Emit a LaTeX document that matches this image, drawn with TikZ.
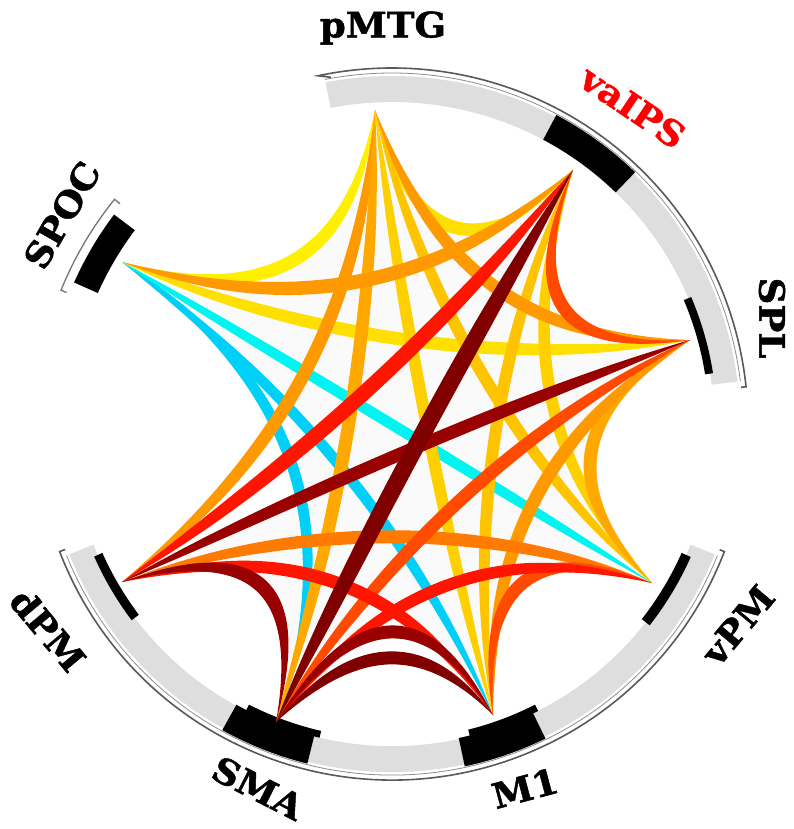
\documentclass[tikz,border=0pt]{standalone}
\usepackage{fontspec}
\usepackage{tikz}
\usetikzlibrary{calc}
\newfontfamily\lblfont{DejaVu Serif}[FakeStretch=1.06,FakeBold=1.4]
\definecolor{ringgray}{RGB}{222,222,222}
\definecolor{cyA}{HTML}{00F4F0}
\definecolor{cyB}{HTML}{00CFF8}
\definecolor{yelA}{HTML}{FFF000}
\definecolor{yelB}{HTML}{FFDF00}
\definecolor{gold}{HTML}{FFD000}
\definecolor{goldB}{HTML}{FFC400}
\definecolor{orA}{HTML}{FF9900}
\definecolor{orB}{HTML}{FFA800}
\definecolor{orC}{HTML}{FF7A00}
\definecolor{orRed}{HTML}{FF4A00}
\definecolor{red1}{HTML}{FF1500}
\definecolor{dkred}{HTML}{990000}
\definecolor{dkredB}{HTML}{800000}
\definecolor{ipsred}{HTML}{FF0000}
% annular piece of the ring: start, end, inner r, outer r, style
\newcommand{\ringseg}[5]{\fill[#5] (#1:#3) arc[start angle=#1,end angle=#2,radius=#3]
  -- (#2:#4) arc[start angle=#2,end angle=#1,radius=#4] -- cycle;}

\begin{document}
\begin{tikzpicture}[x=1pt,y=-1pt,
  lbl/.style={font=\lblfont\bfseries\fontsize{35}{35}\selectfont,inner sep=0pt},
  band/.style={fill=ringgray},
  blockmark/.style={fill=black},
  rim/.style={draw=black!65,line width=1.6pt},
  rimin/.style={draw=black!45,line width=0.8pt},
  bgfill/.style={fill=gray!4}]
  \useasboundingbox (0,0) rectangle (794,829);

  % ring
  \begin{scope}[shift={(392,424)},yscale=-1]
    \ringseg{101}{7}{322}{348}{band}
    \ringseg{202}{338}{322}{348}{band}
    \draw[rimin] (101:351) arc[start angle=101,end angle=7,radius=351];
    \draw[rim] (100:352) -- (102:356) arc[start angle=102,end angle=6,radius=356] -- (6:351);
    \draw[rimin] (202:351) arc[start angle=202,end angle=338,radius=351];
    \draw[rim] (201:350) -- (201:356) arc[start angle=201,end angle=339,radius=356] -- (339:351);
    \ringseg{46}{62}{322}{350}{blockmark}
    \ringseg{9}{23}{317}{325}{blockmark}
    \ringseg{322}{336}{317}{327}{blockmark}
    \ringseg{204}{217}{317}{326}{blockmark}
    \ringseg{241}{256}{321}{350}{blockmark}
    \ringseg{243}{257}{315}{322}{blockmark}
    \ringseg{282}{296}{321}{350}{blockmark}
    \ringseg{284}{297}{315}{322}{blockmark}
    \ringseg{143}{156}{322}{348}{blockmark}
    \draw[draw=black!55,line width=1.3pt] (141:350) -- (141:357)
      arc[start angle=141,end angle=158,radius=357] -- (158:351);
  \end{scope}

  % chord ends
  \coordinate (ctr) at (405,430);
  \coordinate (spoc) at (122,262);
  \coordinate (pmtg) at (375,110);
  \coordinate (vaips) at (573,170);
  \coordinate (spl) at (690,340);
  \coordinate (vpm) at (652,583);
  \coordinate (m1) at (493,715);
  \coordinate (sma) at (276,722);
  \coordinate (dpm) at (122,582);
  \coordinate (gap) at (300,505);

  \foreach \a/\b in {spoc/pmtg,pmtg/vaips,vaips/spl,spl/vpm,vpm/m1,m1/sma,sma/dpm}{
    \coordinate (m-\a) at ($(\a)!0.5!(\b)$);
    \coordinate (k-\a) at ($(m-\a)!0.6!(ctr)$);
    \coordinate (u-\a) at ($(\a)!0.667!(k-\a)$);
    \coordinate (v-\a) at ($(\b)!0.667!(k-\a)$);
  }
  \fill[bgfill] (spoc) .. controls (u-spoc) and (v-spoc) .. (pmtg)
    .. controls (u-pmtg) and (v-pmtg) .. (vaips) .. controls (u-vaips) and (v-vaips) .. (spl)
    .. controls (u-spl) and (v-spl) .. (vpm) .. controls (u-vpm) and (v-vpm) .. (m1)
    .. controls (u-m1) and (v-m1) .. (sma) .. controls (u-sma) and (v-sma) .. (dpm)
    .. controls (235,530) .. (gap) .. controls (292,390) .. (spoc) -- cycle;

  % chords
  \foreach \a/\b/\c/\w/\f in {spoc/sma/cyB/11/0.9, spoc/m1/cyB/11/0.7, spoc/vpm/cyA/11/0.6,
      spoc/pmtg/yelA/13/0.6, pmtg/vaips/yelB/13/0.6, spoc/spl/yelB/13/0.6,
      pmtg/m1/gold/12/0.6, vaips/m1/goldB/12/0.6, vaips/vpm/gold/12/0.6, pmtg/vpm/goldB/12/0.6,
      pmtg/dpm/orA/13/0.7, pmtg/sma/orB/13/0.6, pmtg/spl/orA/13/0.6, spl/vpm/orB/13/0.6,
      spl/m1/orA/13/0.6, spoc/vaips/orA/14/0.6, dpm/vpm/orC/13/0.6,
      vaips/spl/orRed/13/0.6, m1/vpm/orRed/13/0.6, spl/sma/orRed/13/0.6,
      dpm/m1/red1/13/0.6, sma/vpm/red1/12/0.6, vaips/dpm/red1/15/0.6,
      spl/dpm/dkred/13/0.6, dpm/sma/dkred/14/0.6, sma/m1/dkred/13/0.6,
      sma/m1/dkredB/13/0.42, vaips/sma/dkredB/17/0.6}{
    \pgfmathsetlengthmacro\h{0.5*\w}
    \coordinate (m) at ($(\a)!0.5!(\b)$);
    \coordinate (k) at ($(m)!\f!(ctr)$);
    \coordinate (q) at ($(m)!0.5!(k)$);
    \coordinate (l) at ($(\a)!0.5!(k)$);
    \coordinate (r) at ($(\b)!0.5!(k)$);
    \coordinate (p) at ($(\a)!\h!90:(\b)$);
    \fill[\c] (\a) .. controls ($(\a)!0.667!(l)+(p)-(\a)$) and ($(q)!0.667!(l)+(p)-(\a)$)
      .. ($(q)+(p)-(\a)$) .. controls ($(q)!0.667!(r)+(p)-(\a)$) and ($(\b)!0.667!(r)+(p)-(\a)$)
      .. (\b) .. controls ($(\b)!0.667!(r)-(p)+(\a)$) and ($(q)!0.667!(r)-(p)+(\a)$)
      .. ($(q)-(p)+(\a)$) .. controls ($(q)!0.667!(l)-(p)+(\a)$) and ($(\a)!0.667!(l)-(p)+(\a)$)
      .. (\a) -- cycle;
  }

  % labels
  \node[lbl] (l-pmtg) at (383,28) {pMTG};
  \node[lbl,ipsred,rotate=-34] (l-vaips) at (633,107) {vaIPS};
  \node[lbl,rotate=-90] (l-spl) at (772,318) {SPL};
  \node[lbl,rotate=50] (l-vpm) at (738,625) {vPM};
  \node[lbl,rotate=15] (l-m1) at (525,788) {M1};
  \node[lbl,rotate=-27] (l-sma) at (258,788) {SMA};
  \node[lbl,rotate=-50] (l-dpm) at (48,630) {dPM};
  \node[lbl,rotate=60] (l-spoc) at (62,215) {SPOC};
\end{tikzpicture}
\end{document}
